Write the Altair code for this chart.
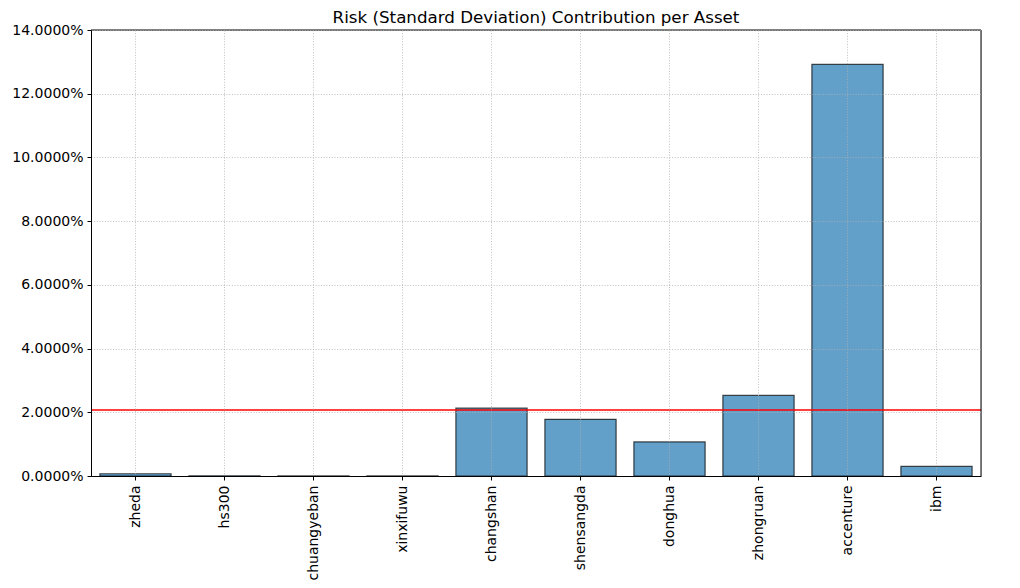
import altair as alt
import pandas as pd

assets = ["zheda", "hs300", "chuangyeban", "xinxifuwu", "changshan",
          "shensangda", "donghua", "zhongruan", "accenture", "ibm"]
contrib = [0.0007, 0.00005, 0.00003, 0.00003, 0.0213,
           0.0178, 0.0107, 0.0253, 0.1292, 0.0030]
ref_line = [0.0207]
y_ticks = [0.0, 0.02, 0.04, 0.06, 0.08, 0.10, 0.12, 0.14]

df = pd.DataFrame({"asset": assets, "contrib": contrib})
df_line = pd.DataFrame({"v": ref_line})

FONT = "DejaVu Sans"

x_enc = alt.X("asset:N", sort=assets, title=None,
              scale=alt.Scale(paddingInner=0.2, paddingOuter=0.1),
              axis=alt.Axis(labelAngle=270, labelAlign="right", labelBaseline="middle",
                            labelPadding=5, labelFontSize=14, labelFont=FONT,
                            labelColor="black", tickColor="black", tickSize=4,
                            domainColor="black", grid=True, gridColor="#b0b0b0",
                            gridDash=[1, 1.7], gridWidth=0.8, bandPosition=0.5,
                            zindex=1))

y_enc = alt.Y("contrib:Q", title=None,
              scale=alt.Scale(domain=[0, 0.14], nice=False, zero=True),
              axis=alt.Axis(values=y_ticks, format=".4%", labelFontSize=14,
                            labelFont=FONT, labelColor="black", tickColor="black",
                            tickSize=4, labelPadding=4, domainColor="black",
                            grid=True, gridColor="#b0b0b0", gridDash=[1, 1.7],
                            gridWidth=0.8, zindex=1))

bars = alt.Chart(df).mark_bar(color="#1f77b4", fillOpacity=0.7, stroke="black",
                              strokeOpacity=0.7, strokeWidth=1.2).encode(
    x=x_enc, y=y_enc)

rule = alt.Chart(df_line).mark_rule(color="red", strokeWidth=1.5).encode(
    y=alt.Y("v:Q", scale=alt.Scale(domain=[0, 0.14], nice=False)))

# frame edges (top and right) drawn above the grid
frame_top = alt.Chart(df_line).mark_rule(color="black", strokeWidth=1).encode(
    x=alt.value(0), x2=alt.value(890), y=alt.value(0))
frame_right = alt.Chart(df_line).mark_rule(color="black", strokeWidth=1).encode(
    x=alt.value(890), y=alt.value(0), y2=alt.value(446))

chart = alt.layer(bars, rule, frame_top, frame_right).properties(
    width=890, height=446,
    title=alt.TitleParams("Risk (Standard Deviation) Contribution per Asset",
                          font=FONT, fontSize=16.7, fontWeight="normal",
                          color="black", offset=-4),
    autosize=alt.AutoSizeParams(type="none"),
    padding={"left": 83, "top": 22, "right": 31, "bottom": 104},
).configure_view(stroke="black", strokeWidth=1).configure(background="white")

chart.save("out.html", embed_options={"renderer": "svg", "actions": False})
